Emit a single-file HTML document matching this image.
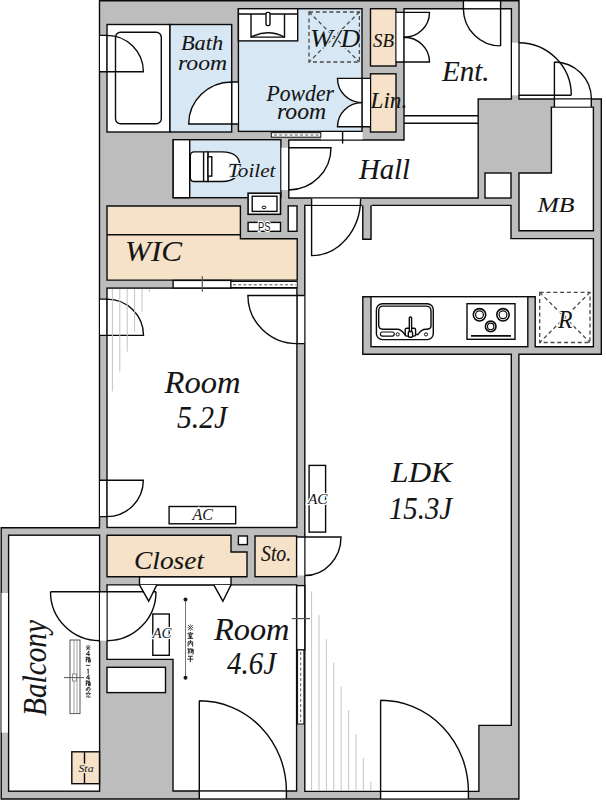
<!DOCTYPE html>
<html><head><meta charset="utf-8">
<style>
html,body{margin:0;padding:0;background:#fff;width:606px;height:800px;overflow:hidden}
svg{display:block}
text{font-family:"Liberation Serif",serif;font-style:italic;fill:#151515;stroke:#151515;stroke-width:0.1px}
.h{stroke:#fff;stroke-width:2.5px;paint-order:stroke}
.hw{stroke:#d7e7f3;stroke-width:2px;paint-order:stroke}
.hb{stroke:#f5e2c8;stroke-width:3px;paint-order:stroke}
.ps{font-family:"Liberation Sans",sans-serif;font-style:normal}
</style></head>
<body>
<svg width="606" height="800" viewBox="0 0 606 800">

<g stroke="#0a0a0a" stroke-width="1.4">
<path fill="#bdbdbd" d="M99.5,0.7 H519 V99 H601.3 V354.3 H518.9 V799 H1.2 V527.8 H99.5 Z"/>
<rect x="107" y="24.5" width="63" height="107.5" fill="#fff"/>
<rect x="170" y="24.5" width="61.7" height="107.5" fill="#d7e7f3"/>
<rect x="238.4" y="8.7" width="123.6" height="122.7" fill="#d7e7f3"/>
<rect x="370.5" y="8.7" width="25.5" height="57.3" fill="#f5e2c8"/>
<rect x="370.5" y="73.8" width="25.5" height="58.2" fill="#f5e2c8"/>
<path fill="#fff" d="M288.8,140 H404 V8.7 H511.4 V99 H478.2 V198 H288.8 Z"/>
<rect x="173.2" y="139.7" width="107.7" height="58" fill="#d7e7f3"/>
<rect x="173.2" y="139.7" width="16.5" height="58" fill="#fff"/>
<path fill="#f5e2c8" d="M107,206 H240.4 V238.7 H297.2 V280.1 H107 Z"/>
<path fill="none" d="M107,234.8 H240.4"/>
<rect x="107" y="288.1" width="189.9" height="239.4" fill="#fff"/>
<path fill="#fff" d="M304.8,205.4 H511 V238.6 H593.4 V346.7 H535.2 V296.7 H362.8 V354.3 H511.3 V725.4 H478.9 V791.4 H304.8 Z"/>
<path fill="none" d="M404,115.8 H478.2 M404,123.2 H478.2"/>
<path fill="#fff" d="M107,584.9 H296.6 V791 H173 V659.4 H107 Z"/>
<path fill="#f5e2c8" d="M107,535.2 H231 V552 H247 V576.7 H107 Z"/>
<rect x="255" y="536" width="41.6" height="40.7" fill="#f5e2c8"/>
<rect x="8.6" y="535.2" width="91" height="256" fill="#fff"/>
<path fill="#fff" d="M551.4,107.1 H593.4 V230.7 H519 V173 H551.4 Z"/>
<rect x="485" y="173" width="26" height="25" fill="#fff"/>
<rect x="107" y="667.3" width="58.5" height="25.3" fill="#fff"/>
<rect x="238.4" y="536" width="9" height="8.6" fill="#fff"/>
<rect x="371" y="296.7" width="156.8" height="50" fill="#fff"/>
<path fill="#bdbdbd" stroke="none" d="M362.2,204 H371.6 V239.3 H362.2 Z"/>
<path fill="none" d="M362.8,205.4 V239.3 H371 V205.4"/>
</g>

<g fill="#fff" stroke="none">
<rect x="100" y="36" width="6.4" height="35.5"/>
<rect x="232.3" y="82" width="5.5" height="42"/>
<rect x="396.6" y="12.4" width="7" height="49.6"/>
<rect x="362.6" y="78.4" width="7.4" height="48.4"/>
<rect x="321" y="132" width="41.5" height="7.4"/>
<rect x="463.4" y="1.7" width="37.2" height="6.4"/>
<rect x="512" y="42.7" width="6.2" height="52.6"/>
<rect x="554.4" y="99.6" width="36.9" height="6.9"/>
<rect x="281.5" y="147.7" width="7" height="42.3"/>
<rect x="311.6" y="198.6" width="49" height="6.2"/>
<rect x="100" y="299.1" width="6.4" height="36.3"/>
<rect x="100" y="480.2" width="6.4" height="36.3"/>
<rect x="297.6" y="537" width="6.6" height="38.5"/>
<rect x="297.6" y="295.5" width="6.6" height="48.1"/>
<rect x="100" y="591.7" width="6.4" height="49"/>
<rect x="1.5" y="593" width="6.4" height="139.6"/>
<rect x="199.3" y="791.8" width="87.1" height="6.4"/>
<rect x="380.6" y="792.1" width="87.8" height="6.2"/>
</g>

<g fill="#fff" stroke="#0a0a0a" stroke-width="1.4">
<path d="M107,71.8 V35.4 A36.4,36.4 0 0 1 143.4,71.8 Z"/>
<path d="M99.4,35.4 H107 M99.4,71.8 H107" fill="none"/>
<path d="M231.7,124 H188.7 A43,42 0 0 1 231.7,82 Z"/>
<path d="M231.7,82 H238.4 M231.7,124 H238.4" fill="none"/>
<path d="M404,12.4 H429.5 A25.5,24.8 0 0 1 404,37.2 Z"/>
<path d="M404,62 H429.5 A25.5,24.8 0 0 0 404,37.2 Z"/>
<path d="M396,12.4 H404 M396,62 H404" fill="none"/>
<path d="M362,78.4 H337.5 A24.5,24.2 0 0 0 362,102.6 Z"/>
<path d="M362,126.8 H337.5 A24.5,24.2 0 0 1 362,102.6 Z"/>
<path d="M362,78.4 H370.5 M362,126.8 H370.5" fill="none"/>
<path d="M463.4,1 V8.7 M500.6,1 V45.9 M463.4,8.7 A37.2,37.2 0 0 0 500.6,45.9" fill="none"/>
<path d="M518.7,95.3 H571.3 M518.7,42.7 A52.6,52.6 0 0 1 571.3,95.3" fill="none"/>
<path d="M554.4,62 V107.1 M591.3,99 V107.1 M554.4,62 A37,37 0 0 1 591.4,99" fill="none"/>
<path d="M288.8,147.7 H331 A42.2,42.3 0 0 1 288.8,190 Z"/>
<path d="M311.6,198.7 V255.6 A49,57 0 0 0 360.6,198.7" fill="none"/>
<path d="M107,335.4 V299.1 A36.5,36.3 0 0 1 143.5,335.4 Z"/>
<path d="M99.4,299.1 H107 M99.4,335.4 H107" fill="none"/>
<path d="M107,480.2 H143.3 A36.3,36.4 0 0 1 107,516.6 Z"/>
<path d="M99.4,480.2 H107 M99.4,516.6 H107" fill="none"/>
<path d="M297,537 H341 A36,38.5 0 0 1 305,575.5" fill="none"/>
<path d="M297,295.5 H247.9 A49.1,48.1 0 0 0 297,343.6 Z"/>
<path d="M297,295.5 H304.6 M297,343.6 H304.6" fill="none"/>
<path d="M50.5,591.7 H156 M50.5,591.7 A49,49 0 0 0 99.5,640.7 M107,640.7 A49,49 0 0 0 156,591.7" fill="none"/>
<path d="M199.3,791 V799 M286.4,791 V799 M380.6,791.4 V799 M468.4,791.4 V799" fill="none"/>
<path d="M199.3,700.7 V791 M199.3,700.7 A87.1,90.3 0 0 1 286.4,791" fill="none"/>
<path d="M380.6,700.2 V791.4 M380.6,700.2 A87.8,91.2 0 0 1 468.4,791.4" fill="none"/>
</g>
<g stroke="#c4c4c4" stroke-width="1"><path d="M112.4,289 V391.4"/><path d="M119.8,289 V371.5"/><path d="M127.2,289 V351.6"/><path d="M134.6,289 V331.7"/><path d="M142.0,289 V311.8"/><path d="M149.4,289 V291.9"/><path d="M311.6,591.4 V790.6"/><path d="M319.0,615.2 V790.6"/><path d="M326.4,639.0 V790.6"/><path d="M333.8,662.8 V790.6"/><path d="M341.2,686.6 V790.6"/><path d="M348.6,710.4 V790.6"/><path d="M356.0,734.2 V790.6"/><path d="M363.4,758.0 V790.6"/><path d="M370.8,781.8 V790.6"/></g>
<g stroke="#0a0a0a" stroke-width="1.4">
<!-- powder sliding -->
<rect x="271.3" y="132.7" width="49.5" height="4.5" fill="#fff" stroke-width="1"/>
<path d="M274,135 H319" stroke="#555" stroke-width="1" stroke-dasharray="3,2.2"/>
<path d="M342.6,131.4 V143.6" fill="none"/>
<!-- WIC sliding -->
<rect x="173.1" y="280.4" width="57.9" height="7.6" fill="#fff"/>
<rect x="231" y="281.5" width="66.2" height="6" fill="#fff" stroke-width="1"/>
<path d="M233,284.8 H296" stroke="#555" stroke-width="1" stroke-dasharray="3,2.2"/>
<path d="M202.3,276.2 V291.8" stroke="#555" stroke-width="1.2"/>
<!-- closet sliding -->
<rect x="139.5" y="576.9" width="91.5" height="8" fill="#fff"/>
<path d="M139.5,584.9 L148.7,601.2 L156.8,584.9 M213.8,584.9 L222.9,601.2 L231,584.9" fill="#fff"/>
<!-- room4.6 / LDK sliding -->
<rect x="296.7" y="585.6" width="8.1" height="64.4" fill="#fff"/>
<rect x="297.6" y="650" width="6.3" height="74" fill="#fff" stroke-width="1"/>
<path d="M300.7,652 V722" stroke="#555" stroke-width="1" stroke-dasharray="3,2.2"/>
<path d="M291.8,618.6 H310" stroke="#555" stroke-width="1.2"/>
</g>

<g stroke="#0a0a0a" stroke-width="1.4" fill="#fff">
<!-- tub -->
<rect x="115.5" y="32.2" width="45.8" height="91.6" rx="5" fill="none"/>
<!-- vanity -->
<rect x="238.4" y="8.7" width="59.3" height="32.2"/>
<path d="M238.4,14 H297.7" fill="none"/>
<path d="M251,14 V37.1 H284.5 V14" fill="none"/>
<path d="M251,37.1 Q267.75,28.5 284.5,37.1" fill="none"/>
<rect x="266" y="12.4" width="4" height="13.2" rx="1.5"/>
<!-- W/D -->
<g stroke="#4a4a4a" stroke-width="1.3" stroke-dasharray="4,2.8" fill="none">
<rect x="309" y="12" width="50.4" height="50"/>
<path d="M309,12 L359.4,62 M359.4,12 L309,62"/>
</g>
<!-- toilet -->
<path d="M207.9,151.9 H222 C236,151.9 240,159 240,166.7 C240,174.5 235,181.5 222,181.5 H207.9 Z"/>
<path d="M207.9,151.9 H194.3 Q190.3,151.9 190.3,156 V177.4 Q190.3,181.5 194.3,181.5 H207.9 Z"/>
<path d="M203.6,151.9 V181.5" fill="none"/>
<rect x="208" y="156.8" width="3.8" height="19.3"/>
<!-- wash basin -->
<rect x="248.1" y="193.2" width="32.4" height="21.1" stroke-width="1.6"/>
<rect x="252.2" y="196.2" width="24.8" height="15.2"/>
<ellipse cx="264" cy="207.4" rx="1.9" ry="1.3" fill="none" stroke-width="1"/>
<rect x="248.1" y="222.4" width="32.4" height="8.9"/>
<rect x="288.2" y="205.9" width="8.8" height="25.4"/>
<!-- kitchen sink -->
<rect x="376.4" y="303.8" width="56.9" height="35.8" rx="6"/>
<path d="M383,306.1 H426 Q431,306.1 431,311 V326 Q431,329.2 426,329.2 Q421,329.2 418,334.5 H404.7 Q401.5,329.2 397,329.2 H383 Q378.7,329.2 378.7,325 V311 Q378.7,306.1 383,306.1 Z" fill="none"/>
<rect x="405.2" y="328.3" width="10.4" height="7.8" rx="1.5"/>
<rect x="409.3" y="317" width="2.3" height="15" rx="1"/>
<rect x="408.3" y="331.5" width="4.3" height="5.8" rx="1.5"/>
<rect x="380.4" y="332" width="13.9" height="4.1" rx="2" stroke-width="1.1"/>
<circle cx="397.7" cy="334.4" r="1.6" stroke-width="1"/>
<circle cx="426" cy="334.4" r="1.6" stroke-width="1"/>
<!-- stove -->
<rect x="467" y="303.7" width="48" height="35.6"/>
<circle cx="479.5" cy="314.8" r="6.2" stroke-width="1.6"/><circle cx="479.5" cy="314.8" r="3.9" stroke-width="1.2"/>
<circle cx="503" cy="314.8" r="6.2" stroke-width="1.6"/><circle cx="503" cy="314.8" r="3.9" stroke-width="1.2"/>
<circle cx="490.7" cy="326.4" r="5.3" stroke-width="1.6"/><circle cx="490.7" cy="326.4" r="3.2" stroke-width="1.2"/>
<path d="M471,335.8 H511" stroke-width="1.8" fill="none"/>
<!-- R -->
<g stroke="#4a4a4a" stroke-width="1.3" stroke-dasharray="4,2.8" fill="none">
<rect x="539.7" y="292.3" width="50.3" height="50.2"/>
<path d="M539.7,292.3 L590,342.5 M590,292.3 L539.7,342.5"/>
</g>
<!-- AC boxes -->
<rect x="169.1" y="506.5" width="66.6" height="17.3"/>
<rect x="309.1" y="465.4" width="16.5" height="66.7"/>
<rect x="152.8" y="614" width="16.5" height="41.3"/>
<!-- Sta balcony -->
<rect x="71.8" y="751.8" width="27.7" height="31.9" fill="#f5e2c8"/>
<path d="M84.5,751.8 V783.7" fill="none"/>
<!-- balcony window device -->
<rect x="70" y="640" width="10" height="73.6" stroke="#555" stroke-width="1"/>
<path d="M74,640 V713.6 M77,640 V713.6" stroke="#888" stroke-width="0.8" fill="none"/>
<rect x="72.5" y="674" width="4" height="7" stroke="#777" stroke-width="0.8"/>
<path d="M64,677.6 H84" stroke="#555" stroke-width="1" fill="none"/>
<!-- clothes line -->
<path d="M185.5,599.5 V677.7" stroke="#666" stroke-width="0.9" fill="none"/>
<circle cx="185.5" cy="599.5" r="2" fill="#1a1a1a" stroke="none"/>
<circle cx="185.5" cy="677.7" r="2" fill="#1a1a1a" stroke="none"/>
</g>
<g><text x="181.0" y="49.5" font-size="21.4" textLength="42.1" lengthAdjust="spacingAndGlyphs">Bath</text><text x="178" y="69.5" font-size="21.4" textLength="49.1" lengthAdjust="spacingAndGlyphs">room</text><text x="310.0" y="47" font-size="24.4" textLength="50.2" lengthAdjust="spacingAndGlyphs" class="hw">W/D</text><text x="373" y="47.2" font-size="19.2" textLength="21.0" lengthAdjust="spacingAndGlyphs">SB</text><text x="266.5" y="100.5" font-size="22.2" textLength="67.5" lengthAdjust="spacingAndGlyphs">Powder</text><text x="277.0" y="119.0" font-size="22.2" textLength="49.2" lengthAdjust="spacingAndGlyphs">room</text><text x="370.5" y="108.1" font-size="22.2" textLength="36.7" lengthAdjust="spacingAndGlyphs">Lin.</text><text x="442" y="81.0" font-size="28.8" textLength="47.6" lengthAdjust="spacingAndGlyphs">Ent.</text><text x="228.0" y="176.5" font-size="18.2" textLength="47.5" lengthAdjust="spacingAndGlyphs" class="hw">Toilet</text><text x="359" y="179.0" font-size="28.8" textLength="51.0" lengthAdjust="spacingAndGlyphs">Hall</text><text x="537.5" y="211.5" font-size="22.0" textLength="37.0" lengthAdjust="spacingAndGlyphs">MB</text><text x="125" y="261.0" font-size="30.4" textLength="57.1" lengthAdjust="spacingAndGlyphs">WIC</text><text x="558" y="327.5" font-size="25.2" textLength="14.5" lengthAdjust="spacingAndGlyphs" class="h">R</text><text x="164.5" y="393" font-size="30.5" textLength="76.0" lengthAdjust="spacingAndGlyphs">Room</text><text x="177" y="428.1" font-size="30.5" textLength="50.0" lengthAdjust="spacingAndGlyphs">5.2J</text><text x="391" y="482.0" font-size="30.3" textLength="61.0" lengthAdjust="spacingAndGlyphs">LDK</text><text x="389.0" y="519.1" font-size="30.5" textLength="63.0" lengthAdjust="spacingAndGlyphs">15.3J</text><text x="134.0" y="568.5" font-size="25.2" textLength="70.0" lengthAdjust="spacingAndGlyphs">Closet</text><text x="261.0" y="560.5" font-size="23.9" textLength="30.2" lengthAdjust="spacingAndGlyphs">Sto.</text><text x="214" y="640.0" font-size="30.5" textLength="75.5" lengthAdjust="spacingAndGlyphs">Room</text><text x="227.0" y="674.1" font-size="30.5" textLength="49.0" lengthAdjust="spacingAndGlyphs">4.6J</text><text x="192.5" y="520.0" font-size="16.1" textLength="20.5" lengthAdjust="spacingAndGlyphs" class="h">AC</text><text x="308.0" y="504" font-size="14.6" textLength="19.6" lengthAdjust="spacingAndGlyphs" class="h">AC</text><text x="152.5" y="637.5" font-size="14.5" textLength="19.0" lengthAdjust="spacingAndGlyphs" class="h">AC</text><text x="78.5" y="771.5" font-size="10.8" textLength="15.0" lengthAdjust="spacingAndGlyphs" class="hb">Sta</text><text x="258" y="231.3" font-size="12" textLength="12.4" lengthAdjust="spacingAndGlyphs" class="h ps">PS</text><text transform="translate(46,716) rotate(-90)" x="0" y="0" font-size="33" textLength="96" lengthAdjust="spacingAndGlyphs">Balcony</text></g><g fill="none" stroke="#2a2a2a" stroke-width="1"><path transform="translate(187.4,624.3) scale(1.0,0.95)" vector-effect="non-scaling-stroke" d="M0.8,0.8 L5.2,6.2 M5.2,0.8 L0.8,6.2 M3,0.2 V1.2 M3,5.8 V6.8 M0.2,3.5 H1.2 M4.8,3.5 H5.8"/><path transform="translate(187.4,632.1) scale(1.0,0.95)" vector-effect="non-scaling-stroke" d="M3,0 V1 M0.5,2.3 V1.2 H5.5 V2.3 M1.2,2.8 H4.8 M2.2,3 L1.5,4.2 H4.5 M1.2,5.2 H4.8 M3,4.2 V6.6 M0.3,6.6 H5.7"/><path transform="translate(187.4,639.9) scale(1.0,0.95)" vector-effect="non-scaling-stroke" d="M3,0 V2.5 M0.7,7 V2 H5.3 V7 M3,2.5 L1.6,5 M3,2.5 L4.4,5"/><path transform="translate(187.4,647.7) scale(1.0,0.95)" vector-effect="non-scaling-stroke" d="M1.5,0.2 V7 M0.2,2.2 H2.8 M0.2,5 L2.8,3.6 M0.5,0.8 L0.9,2 M3.6,0.4 L3,2.2 M3.3,1.6 H5.8 V6.5 L5,6.8 M4.6,1.8 L3.4,5.5 M5.4,2 L4.2,6"/><path transform="translate(187.4,655.5) scale(1.0,0.95)" vector-effect="non-scaling-stroke" d="M0.6,0.8 H5.4 M0,3.8 H6 M3,0.8 V7"/></g><g fill="none" stroke="#2a2a2a" stroke-width="1"><path transform="translate(85.8,645.0) scale(0.8,0.78)" vector-effect="non-scaling-stroke" d="M0.8,0.8 L5.2,6.2 M5.2,0.8 L0.8,6.2 M3,0.2 V1.2 M3,5.8 V6.8 M0.2,3.5 H1.2 M4.8,3.5 H5.8"/><path transform="translate(85.8,650.9) scale(0.8,0.78)" vector-effect="non-scaling-stroke" d="M3.8,0.3 L0.6,4.6 H5.4 M3.8,0.3 V6.8"/><path transform="translate(85.8,656.8) scale(0.8,0.78)" vector-effect="non-scaling-stroke" d="M0.6,0.2 V7 M0.6,0.5 H2.1 L1.4,2.5 L2.1,3.8 L1,4.8 M3.2,0.3 V2.6 H5.8 M4.6,0.3 V2.6 M3.4,3.6 H5.6 V6.8 H3.4 Z M3.4,5.2 H5.6"/><path transform="translate(85.8,662.7) scale(0.8,0.78)" vector-effect="non-scaling-stroke" d="M0.4,4 Q1.6,2.6 3,3.5 Q4.4,4.4 5.6,3"/><path transform="translate(85.8,668.6) scale(0.8,0.78)" vector-effect="non-scaling-stroke" d="M3,0.3 V6.8 M1.8,1.4 L3,0.3"/><path transform="translate(85.8,674.5) scale(0.8,0.78)" vector-effect="non-scaling-stroke" d="M3.8,0.3 L0.6,4.6 H5.4 M3.8,0.3 V6.8"/><path transform="translate(85.8,680.4) scale(0.8,0.78)" vector-effect="non-scaling-stroke" d="M0.6,0.2 V7 M0.6,0.5 H2.1 L1.4,2.5 L2.1,3.8 L1,4.8 M3.2,0.3 V2.6 H5.8 M4.6,0.3 V2.6 M3.4,3.6 H5.6 V6.8 H3.4 Z M3.4,5.2 H5.6"/><path transform="translate(85.8,686.3) scale(0.8,0.78)" vector-effect="non-scaling-stroke" d="M3.2,1.2 Q2.2,6.4 1,5.6 Q0,4.6 1.2,2.6 Q3,0.8 4.8,1.8 Q6,3 5.2,5 Q4.4,6.4 3,6.6"/><path transform="translate(85.8,692.2) scale(0.8,0.78)" vector-effect="non-scaling-stroke" d="M3,0 V0.8 M0.4,2.4 V1.4 H5.6 V2.4 M1.8,2.4 L0.6,3.6 M4.2,2.4 L5.4,3.6 M2,3.6 L3.6,4.8 M1,6.7 L1.3,5.3 M2.2,5.3 Q2.4,6.8 4.4,6.4 M4.9,5.2 L5.5,6.6"/></g>
</svg>
</body></html>
